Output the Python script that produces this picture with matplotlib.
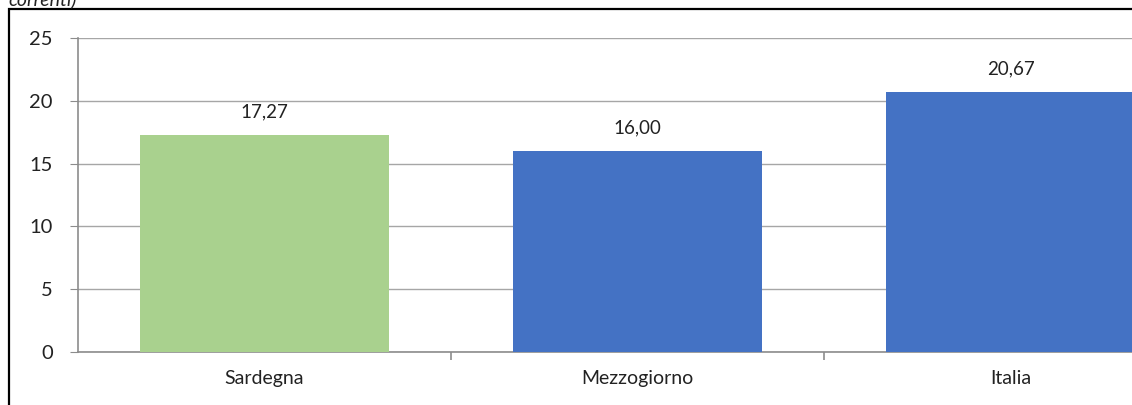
import matplotlib.pyplot as plt
from matplotlib.patches import Rectangle

# data
categories = ["Sardegna", "Mezzogiorno", "Italia"]
values = [17.27, 16.00, 20.67]
bar_colors = ["#A9D18E", "#4472C4", "#4472C4"]
yticks = [0, 5, 10, 15, 20, 25]

plt.rcParams['font.family'] = ['Lato', 'DejaVu Sans']

W, H = 1132, 405
fig = plt.figure(figsize=(W / 100, H / 100), dpi=100)

# outer frame (goes off the right and bottom of the picture)
fig.patches.append(Rectangle((9 / W, -0.1), 1.2, 1 - 9 / H + 0.1,
                             transform=fig.transFigure, fill=False,
                             edgecolor="black", linewidth=1.6))

# cut off caption from above
fig.text(8 / W, 1 + 1 / H, "correnti)", fontsize=14, style="italic",
         ha="left", va="center", color="#222222")

# axes: category width 373px, starts at x=78, runs past right edge
left = 78 / W
width = 373 * 3 / W
bottom = (H - 352) / H
height = 314 / H
ax = fig.add_axes([left, bottom, width, height])

x = list(range(len(categories)))
ax.bar(x, values, width=0.667, color=bar_colors, zorder=3)
for xi, v in zip(x, values):
    ax.annotate(f"{v:.2f}".replace(".", ","), (xi, v), xytext=(0, 10.5),
                textcoords="offset points", ha="center", va="bottom",
                fontsize=13.5, color="#222222")

ax.set_xlim(-0.5, 2.5)
ax.set_ylim(0, 25)
ax.set_yticks(yticks)
ax.set_yticklabels([str(t) for t in yticks])
ax.set_xticks(x)
ax.set_xticklabels(categories)
ax.set_xticks([0.5, 1.5], minor=True)

ax.grid(axis="y", color="#A6A6A6", linewidth=1.0, zorder=0)
for s in ["top", "right"]:
    ax.spines[s].set_visible(False)
for s in ["left", "bottom"]:
    ax.spines[s].set_color("#8C8C8C")
    ax.spines[s].set_linewidth(1.2)

ax.tick_params(axis="y", length=6, color="#8C8C8C", labelsize=14.5,
               labelcolor="#222222", pad=12)
ax.tick_params(axis="x", which="major", length=0, labelsize=14,
               labelcolor="#222222", pad=13)
ax.tick_params(axis="x", which="minor", length=6, color="#8C8C8C", width=1.2)

fig.savefig("out.png", dpi=100)
